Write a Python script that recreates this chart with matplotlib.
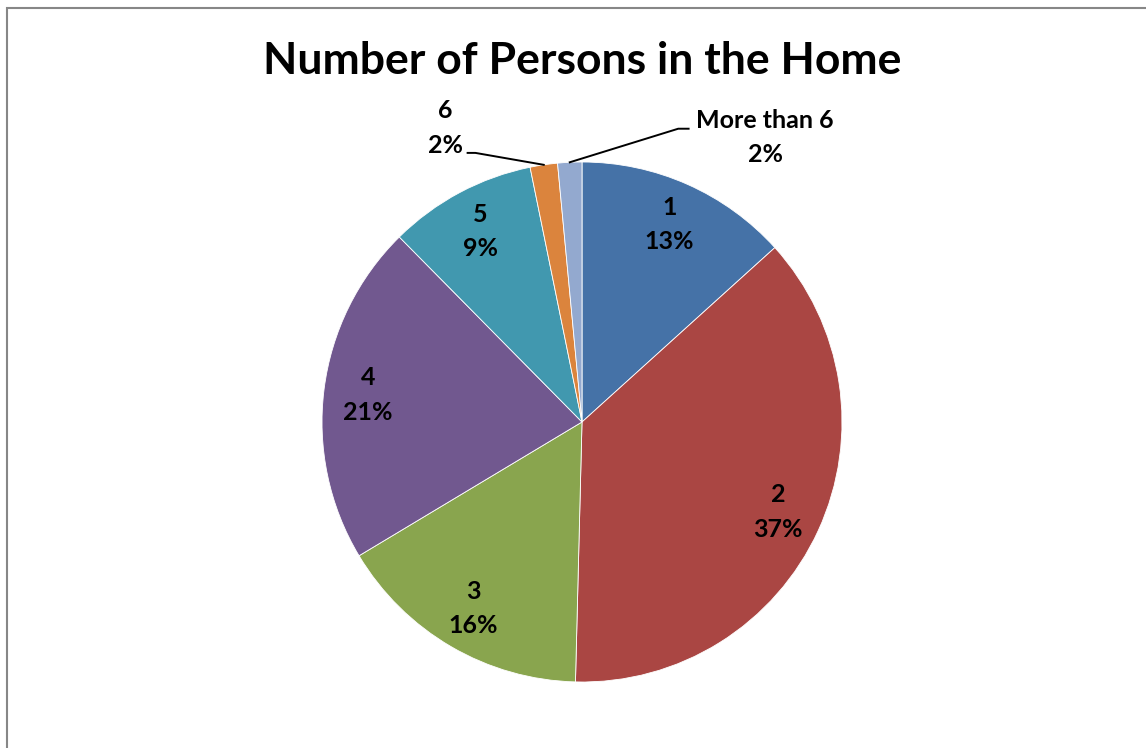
import numpy as np
import matplotlib.pyplot as plt
from matplotlib.patches import Rectangle

plt.rcParams['font.family'] = ['Lato', 'DejaVu Sans']

# household size shares (percent)
categories = ['1', '2', '3', '4', '5', '6', 'More than 6']
shares = [13.3, 37.1, 16.0, 21.2, 9.2, 1.7, 1.5]
colors = ['#4572A7', '#AA4643', '#89A54E', '#71588F', '#4198AF', '#DB843D', '#93A9CF']

fig = plt.figure(figsize=(11.46, 7.48), dpi=100)
W, H = 1146, 748
cx, cy, R = 582, 422, 260
ax = fig.add_axes([(cx - R) / W, (H - cy - R) / H, 2 * R / W, 2 * R / H])

wedges, _ = ax.pie(shares, colors=colors, startangle=90, counterclock=False,
                   radius=1, wedgeprops=dict(edgecolor='white', linewidth=0.6))
ax.set_xlim(-1, 1)
ax.set_ylim(-1, 1)
ax.set_aspect('equal')
ax.axis('off')

def pct(v):
    return f'{v:.0f}%'

label_kw = dict(ha='center', va='center', fontsize=18, fontweight='bold',
                linespacing=1.6)

# labels inside the big slices
for w, cat, v in zip(wedges[:5], categories[:5], shares[:5]):
    mid = np.deg2rad((w.theta1 + w.theta2) / 2)
    ax.text(0.83 * np.cos(mid), 0.83 * np.sin(mid), f'{cat}\n{pct(v)}', **label_kw)

# small slices get outside labels with leader lines
outside = {
    5: dict(text_xy=(-0.525, 1.13), line=[(-0.44, 1.035), (-0.41, 1.035)]),
    6: dict(text_xy=(0.705, 1.095), line=[(0.41, 1.128), (0.37, 1.128)]),
}
for i, opt in outside.items():
    w = wedges[i]
    mid = np.deg2rad((w.theta1 + w.theta2) / 2)
    tip = (np.cos(mid), np.sin(mid))
    xs = [p[0] for p in opt['line']] + [tip[0]]
    ys = [p[1] for p in opt['line']] + [tip[1]]
    ax.plot(xs, ys, color='black', lw=1.4, clip_on=False)
    ax.text(*opt['text_xy'], f'{categories[i]}\n{pct(shares[i])}', **label_kw)

fig.text(582 / W, 1 - 61 / H, 'Number of Persons in the Home',
         ha='center', va='center', fontsize=32, fontweight='bold')

# chart frame
fig.patches.append(Rectangle((7 / W, -0.1), 1.2, 1.1 - 8 / H,
                             transform=fig.transFigure, fill=False,
                             edgecolor='#878787', linewidth=1.5))

fig.savefig('out.png', dpi=100)
